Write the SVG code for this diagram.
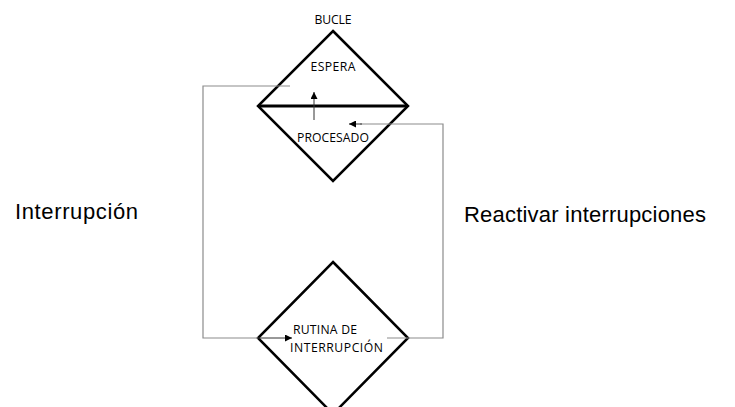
<svg xmlns="http://www.w3.org/2000/svg" width="735" height="407" viewBox="0 0 735 407">
<defs>
<style>
.dia{fill:#fff;stroke:#000;stroke-width:2.5;stroke-linejoin:miter}
.con{fill:none;stroke:#8c8c8c;stroke-width:1.2}
.arr{fill:none;stroke:#333;stroke-width:1}
.sm{font-family:"Open Sans","Liberation Sans",sans-serif;font-size:12.2px;fill:#000}
.lg{font-family:"Liberation Sans",Arial,sans-serif;font-size:22px;fill:#000}
</style>
<marker id="ah" viewBox="0 0 10 10" refX="10" refY="5" markerWidth="7" markerHeight="7" markerUnits="userSpaceOnUse" orient="auto">
<path d="M0,0 L10,5 L0,10 z" fill="#000"/>
</marker>
</defs>
<rect width="735" height="407" fill="#fff"/>
<g id="bucle">
<polygon class="dia" points="333,31 408,106 333,181 258,106"/>
<line x1="258" y1="106" x2="408" y2="106" stroke="#000" stroke-width="3"/>
<text class="sm" x="333" y="24" text-anchor="middle" textLength="37">BUCLE</text>
<text class="sm" x="333" y="71" text-anchor="middle" textLength="45">ESPERA</text>
<text class="sm" x="333" y="141.5" text-anchor="middle" textLength="72">PROCESADO</text>
</g>
<g id="rutina">
<polygon class="dia" points="333,262 408,338 333,414 258,338"/>
<text class="sm" x="293" y="334" textLength="64">RUTINA DE</text>
<text class="sm" x="290" y="352" textLength="93">INTERRUPCIÓN</text>
</g>
<g id="connectors">
<polyline class="con" points="290,86 203,86 203,338 258,338"/>
<line class="arr" x1="258" y1="338" x2="292" y2="338" marker-end="url(#ah)"/>
<polyline class="con" points="387,338 443,338 443,124 360,124"/>
<line class="arr" x1="362" y1="124" x2="349" y2="124" marker-end="url(#ah)"/>
<line class="arr" x1="314" y1="120" x2="314" y2="92" marker-end="url(#ah)"/>
</g>
<text class="lg" x="15" y="219" textLength="123">Interrupción</text>
<text class="lg" x="464" y="222" textLength="242">Reactivar interrupciones</text>
</svg>
